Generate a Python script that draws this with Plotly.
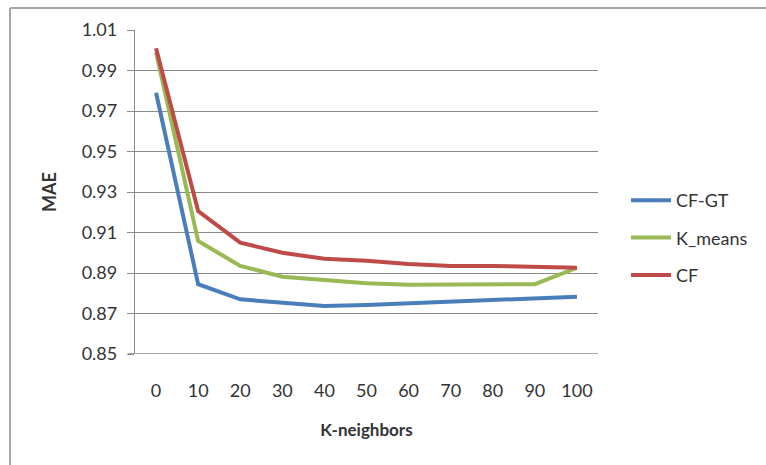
import plotly.graph_objects as go

# K-neighbors values on the category axis
k_neighbors = [0, 10, 20, 30, 40, 50, 60, 70, 80, 90, 100]

# MAE per method
mae_cf_gt = [0.979, 0.8845, 0.877, 0.8753, 0.8737, 0.8742, 0.875, 0.876, 0.8768, 0.8776, 0.8783]
mae_k_means = [0.999, 0.9058, 0.8935, 0.8882, 0.8865, 0.8850, 0.8842, 0.8842, 0.8842, 0.8845, 0.8926]
mae_cf = [1.001, 0.9206, 0.905, 0.900, 0.897, 0.896, 0.8945, 0.8935, 0.8935, 0.893, 0.8926]

y_ticks = [0.85, 0.87, 0.89, 0.91, 0.93, 0.95, 0.97, 0.99, 1.01]

FONT = "Lato"
TEXT = "#333333"
GRID = "#8a8a8a"

series = [
    ("CF-GT", mae_cf_gt, "#4a7ebb"),
    ("K_means", mae_k_means, "#98b954"),
    ("CF", mae_cf, "#be4b48"),
]

fig = go.Figure()
for name, vals, color in series:
    fig.add_trace(go.Scatter(
        x=[str(k) for k in k_neighbors],
        y=vals,
        mode="lines",
        name=name,
        legendgroup=name,
        line=dict(color=color, width=4),
    ))

fig.update_layout(
    width=766,
    height=465,
    margin=dict(l=0, r=0, t=0, b=0),
    paper_bgcolor="white",
    plot_bgcolor="white",
    font=dict(family=FONT, size=18, color=TEXT),
    xaxis=dict(
        type="category",
        automargin=False,
        domain=[135 / 766, 598 / 766],
        range=[-0.5, 10.5],
        showgrid=False,
        showline=False,
        ticks="",
        ticklabelstandoff=24,
        tickfont=dict(size=18, color=TEXT),
        title=dict(text="<b>K-neighbors</b>", font=dict(size=17, color=TEXT), standoff=24),
        zeroline=False,
    ),
    yaxis=dict(
        automargin=False,
        domain=[1 - 354 / 465, 1 - 30 / 465],
        range=[0.85, 1.01],
        tickvals=y_ticks,
        ticktext=[f"{v:.2f}" for v in y_ticks],
        showgrid=True,
        gridcolor=GRID,
        gridwidth=1.3,
        showline=True,
        linecolor=GRID,
        linewidth=1.3,
        ticks="outside",
        ticklen=7,
        tickcolor=GRID,
        tickwidth=1.3,
        ticklabelstandoff=6,
        tickfont=dict(size=18, color=TEXT),
        title=dict(text="<b>MAE</b>", font=dict(size=18, color=TEXT), standoff=20),
        zeroline=False,
    ),
    legend=dict(
        x=626 / 766,
        y=1 - 182 / 465,
        xanchor="left",
        yanchor="top",
        bgcolor="rgba(0,0,0,0)",
        font=dict(size=18, color=TEXT),
        tracegroupgap=11,
        itemwidth=40,
    ),
    shapes=[
        # chart frame: top and left edges
        dict(type="line", xref="paper", yref="paper", x0=10 / 766, x1=1, y0=1 - 8 / 465, y1=1 - 8 / 465,
             line=dict(color="#aaa5a5", width=2)),
        dict(type="line", xref="paper", yref="paper", x0=10 / 766, x1=10 / 766, y0=0, y1=1 - 8 / 465,
             line=dict(color="#aaa5a5", width=2)),
        # bottom axis line at 0.85
        dict(type="line", xref="paper", yref="y", x0=128 / 766, x1=598 / 766, y0=0.85, y1=0.85,
             line=dict(color=GRID, width=1.3), layer="below"),
    ],
)

fig.write_html("out.html")
